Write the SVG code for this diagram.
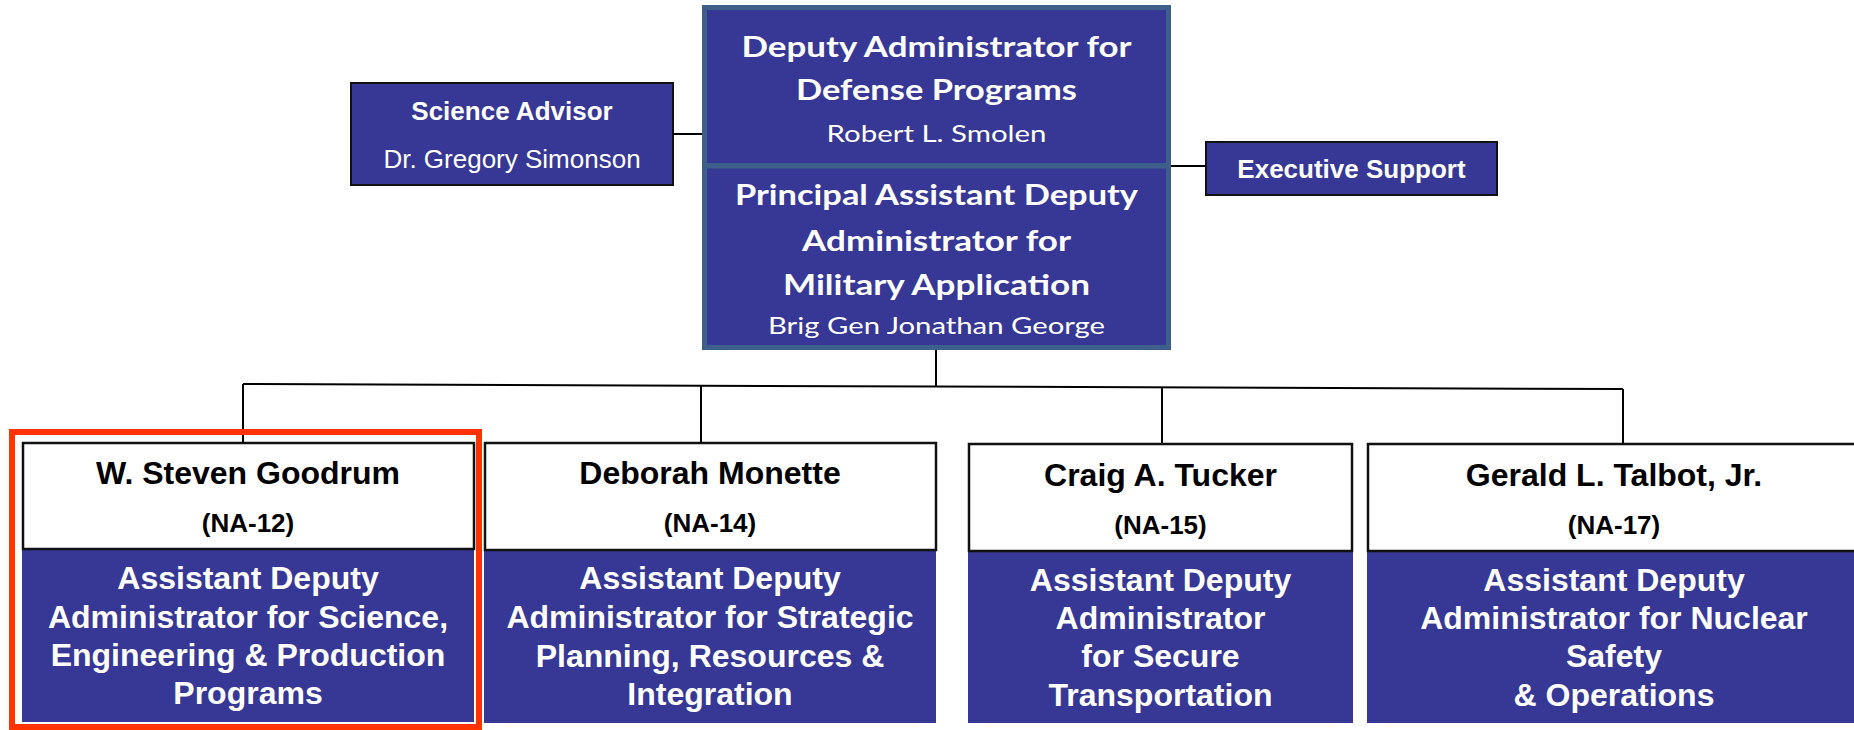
<svg xmlns="http://www.w3.org/2000/svg" width="1854" height="730" viewBox="0 0 1854 730">
<style>
.blue{fill:#373795}
.main{fill:#373795;stroke:#3d5f8a;stroke-width:5}
.side{fill:#373795;stroke:#111;stroke-width:2}
.wbox{fill:#fff;stroke:#111;stroke-width:2.5}
.ln{stroke:#000;stroke-width:2;fill:none}
.cb{font-family:Lato,"Open Sans",sans-serif;font-weight:700;fill:#fff;text-anchor:middle}
.cr{font-family:Lato,"Open Sans",sans-serif;font-weight:400;fill:#fff;text-anchor:middle}
.ab{font-family:"Liberation Sans",Arial,sans-serif;font-weight:700;text-anchor:middle}
.ar{font-family:"Liberation Sans",Arial,sans-serif;font-weight:400;text-anchor:middle;fill:#fff}
.nm{font-size:32px;fill:#000}
.na{font-size:26px;fill:#000}
.ti{font-size:32px;fill:#fff}
</style>
<g id="connectors">
<line class="ln" x1="673" y1="134" x2="702" y2="134"/>
<line class="ln" x1="1171" y1="166" x2="1206" y2="166"/>
<line class="ln" x1="936" y1="350" x2="936" y2="386.5"/>
<line class="ln" x1="243" y1="384" x2="1623" y2="389"/>
<line class="ln" x1="243" y1="384" x2="243" y2="442"/>
<line class="ln" x1="701" y1="385.6" x2="701" y2="442"/>
<line class="ln" x1="1162" y1="387.3" x2="1162" y2="443"/>
<line class="ln" x1="1623" y1="389" x2="1623" y2="443"/>
</g>
<g id="science-advisor">
<rect class="side" x="351" y="83" width="322" height="102"/>
<text class="ab" x="512" y="120" font-size="26" fill="#fff">Science Advisor</text>
<text class="ar" x="512" y="168" font-size="26">Dr. Gregory Simonson</text>
</g>
<g id="deputy-administrator">
<rect class="main" x="704.5" y="7.5" width="464" height="158"/>
<text class="cb" x="936.5" y="57" font-size="29" textLength="390" lengthAdjust="spacingAndGlyphs">Deputy Administrator for</text>
<text class="cb" x="936.5" y="100" font-size="29" textLength="281" lengthAdjust="spacingAndGlyphs">Defense Programs</text>
<text class="cr" x="936.5" y="142" font-size="23.5" textLength="220" lengthAdjust="spacingAndGlyphs">Robert L. Smolen</text>
</g>
<g id="principal-assistant">
<rect class="main" x="704.5" y="166" width="464" height="181.5"/>
<text class="cb" x="936.5" y="205" font-size="29" textLength="403" lengthAdjust="spacingAndGlyphs">Principal Assistant Deputy</text>
<text class="cb" x="936.5" y="251" font-size="29" textLength="269" lengthAdjust="spacingAndGlyphs">Administrator for</text>
<text class="cb" x="936.5" y="295" font-size="29" textLength="307" lengthAdjust="spacingAndGlyphs">Military Application</text>
<text class="cr" x="936.5" y="334" font-size="23.5" textLength="337" lengthAdjust="spacingAndGlyphs">Brig Gen Jonathan George</text>
</g>
<g id="executive-support">
<rect class="side" x="1206" y="142" width="291" height="53"/>
<text class="ab" x="1351.5" y="178" font-size="26" fill="#fff">Executive Support</text>
</g>
<g id="na-12">
<rect class="blue" x="22" y="549" width="452" height="173"/>
<rect class="wbox" x="23" y="443" width="451" height="106"/>
<text class="ab nm" x="248" y="484">W. Steven Goodrum</text>
<text class="ab na" x="248" y="532">(NA-12)</text>
<text class="ab ti" x="248" y="589">Assistant Deputy</text>
<text class="ab ti" x="248" y="628">Administrator for Science,</text>
<text class="ab ti" x="248" y="666">Engineering &amp; Production</text>
<text class="ab ti" x="248" y="704">Programs</text>
</g>
<g id="na-14">
<rect class="blue" x="484" y="550" width="452" height="173"/>
<rect class="wbox" x="485" y="443" width="451" height="107"/>
<text class="ab nm" x="710" y="484">Deborah Monette</text>
<text class="ab na" x="710" y="532">(NA-14)</text>
<text class="ab ti" x="710" y="589">Assistant Deputy</text>
<text class="ab ti" x="710" y="628">Administrator for Strategic</text>
<text class="ab ti" x="710" y="667">Planning, Resources &amp;</text>
<text class="ab ti" x="710" y="705">Integration</text>
</g>
<g id="na-15">
<rect class="blue" x="968" y="551" width="385" height="172"/>
<rect class="wbox" x="969" y="444" width="383" height="107"/>
<text class="ab nm" x="1160.5" y="486">Craig A. Tucker</text>
<text class="ab na" x="1160.5" y="534">(NA-15)</text>
<text class="ab ti" x="1160.5" y="591">Assistant Deputy</text>
<text class="ab ti" x="1160.5" y="629">Administrator</text>
<text class="ab ti" x="1160.5" y="667">for Secure</text>
<text class="ab ti" x="1160.5" y="706">Transportation</text>
</g>
<g id="na-17">
<rect class="blue" x="1367" y="551" width="494" height="172"/>
<rect class="wbox" x="1368" y="444" width="492" height="107"/>
<text class="ab nm" x="1614" y="486">Gerald L. Talbot, Jr.</text>
<text class="ab na" x="1614" y="534">(NA-17)</text>
<text class="ab ti" x="1614" y="591">Assistant Deputy</text>
<text class="ab ti" x="1614" y="629">Administrator for Nuclear</text>
<text class="ab ti" x="1614" y="667">Safety</text>
<text class="ab ti" x="1614" y="706">&amp; Operations</text>
</g>
<g id="highlight">
<rect x="12" y="432" width="467" height="295" fill="none" stroke="#ff3300" stroke-width="6"/>
</g>
</svg>
